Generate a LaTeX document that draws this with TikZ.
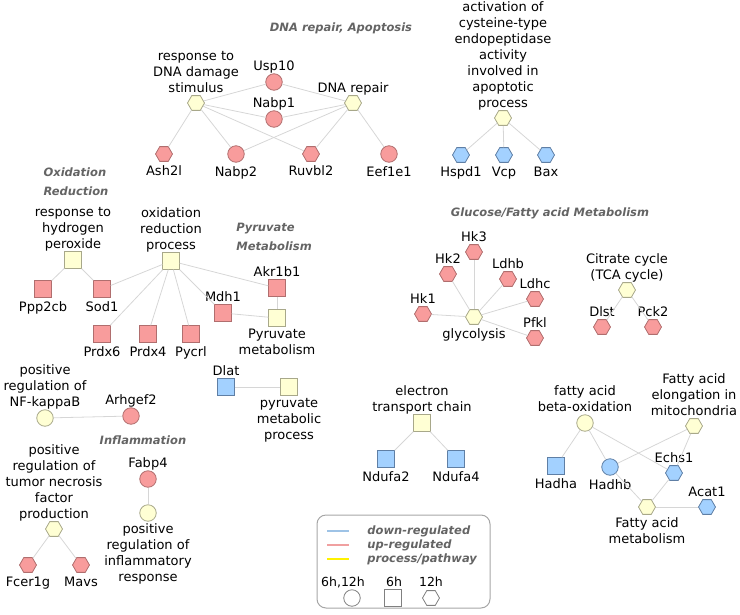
\documentclass[tikz,border=0pt]{standalone}
\usepackage{fontspec}
\setmainfont{DejaVu Sans}
\usetikzlibrary{shapes.geometric}

\definecolor{upfill}{HTML}{F89C9C}
\definecolor{upline}{HTML}{B06E6E}
\definecolor{downfill}{HTML}{A3D1FF}
\definecolor{downline}{HTML}{5F7FA5}
\definecolor{procfill}{HTML}{FFFFD4}
\definecolor{procline}{HTML}{A8A88A}
\definecolor{edgegray}{HTML}{D6D6D6}
\definecolor{titlegray}{HTML}{646464}

\begin{document}
\begin{tikzpicture}[x=1pt, y=-1pt,
  every node/.style={line width=0.8pt},
  circ/.style={circle, minimum size=16.5pt, inner sep=0pt},
  sq/.style={rectangle, minimum size=16.5pt, inner sep=0pt},
  hexa/.style={regular polygon, regular polygon sides=6, minimum size=17pt, inner sep=0pt},
  up/.style={fill=upfill, draw=upline},
  down/.style={fill=downfill, draw=downline},
  proc/.style={fill=procfill, draw=procline},
  label distance=-2.5pt,
  every label/.style={font=\fontsize{13}{16}\selectfont, align=center, inner sep=0pt,
    execute at begin node=\strut, execute at end node=\strut},
  lowlbl/.style={yshift=-4.5pt},
  edge/.style={draw=edgegray, line width=0.8pt},
  ttl/.style={font=\fontsize{11.5}{19}\selectfont\bfseries\itshape, text=titlegray, inner sep=0pt},
  lg/.style={font=\fontsize{12.5}{14}\selectfont, inner sep=0pt}]
\useasboundingbox (0,0) rectangle (740,614);

% section titles
\node[ttl] (tdna) at (341,28) {DNA repair, Apoptosis};
\node[ttl, align=left] (tox) at (76,182) {Oxidation\\Reduction};
\node[ttl, align=left, anchor=west] (tpyr) at (236,237) {Pyruvate\\Metabolism};
\node[ttl] (tinf) at (143,440) {Inflammation};
\node[ttl] (tglc) at (550,213) {Glucose/Fatty acid Metabolism};

% DNA repair
\node[hexa, proc, label=above:{response to\\DNA damage\\stimulus}] (dnadmg) at (196,103) {};
\node[circ, up, label=above:Usp10] (usp10) at (274,82) {};
\node[circ, up, label=above:Nabp1] (nabp1) at (274,119) {};
\node[hexa, proc, label=above:DNA repair] (dnarep) at (353,103) {};
\node[hexa, up, label={[lowlbl]below:Ash2l}] (ash2l) at (164,154) {};
\node[circ, up, label={[lowlbl]below:Nabp2}] (nabp2) at (236,154) {};
\node[hexa, up, label={[lowlbl]below:Ruvbl2}] (ruvbl2) at (311,154) {};
\node[circ, up, label={[lowlbl]below:Eef1e1}] (eef1e1) at (389,154) {};

% apoptosis
\node[hexa, proc, label=above:{activation of\\cysteine-type\\endopeptidase\\activity\\involved in\\apoptotic\\process}] (apop) at (503,118) {};
\node[hexa, down, label={[lowlbl]below:Hspd1}] (hspd1) at (461,155) {};
\node[hexa, down, label={[lowlbl]below:Vcp}] (vcp) at (504,155) {};
\node[hexa, down, label={[lowlbl]below:Bax}] (bax) at (546,155) {};

% oxidation reduction
\node[sq, proc, label=above:{response to\\hydrogen\\peroxide}] (hperox) at (73,260) {};
\node[sq, up, label={[lowlbl]below:Ppp2cb}] (ppp2cb) at (43,289) {};
\node[sq, up, label={[lowlbl]below:Sod1}] (sod1) at (102,289) {};
\node[sq, proc, label=above:{oxidation\\reduction\\process}] (oxred) at (171,261) {};
\node[sq, up, label={[lowlbl]below:Prdx6}] (prdx6) at (102,334) {};
\node[sq, up, label={[lowlbl]below:Prdx4}] (prdx4) at (148,334) {};
\node[sq, up, label={[lowlbl]below:Pycrl}] (pycrl) at (191,334) {};
\node[sq, up, label=above:Mdh1] (mdh1) at (223,313) {};
\node[sq, up, label=above:Akr1b1] (akr1b1) at (277,288) {};
\node[sq, proc, label={[lowlbl]below:{Pyruvate\\metabolism}}] (pyrmet) at (277,318) {};

% inflammation
\node[circ, proc, label=above:{positive\\regulation of\\NF-kappaB}] (nfkb) at (45,418) {};
\node[circ, up, label=above:Arhgef2] (arhgef2) at (131,416) {};
\node[hexa, proc, label=above:{positive\\regulation of\\tumor necrosis\\factor\\production}] (tnf) at (54,529) {};
\node[hexa, up, label={[lowlbl]below:Fcer1g}] (fcer1g) at (28,565) {};
\node[hexa, up, label={[lowlbl]below:Mavs}] (mavs) at (81,565) {};
\node[circ, up, label=above:Fabp4] (fabp4) at (148,479) {};
\node[circ, proc, label={[lowlbl]below:{positive\\regulation of\\inflammatory\\response}}] (inflresp) at (148,513) {};
\node[sq, down, label=above:Dlat] (dlat) at (226,387) {};
\node[sq, proc, label={[lowlbl]below:{pyruvate\\metabolic\\process}}] (pyrproc) at (289,387) {};

% glucose
\node[hexa, proc, label={[lowlbl]below:glycolysis}] (glyc) at (474,317) {};
\node[hexa, up, label=above:Hk1] (hk1) at (423,314) {};
\node[hexa, up, label=above:Hk2] (hk2) at (448,274) {};
\node[hexa, up, label=above:Hk3] (hk3) at (474,252) {};
\node[hexa, up, label=above:Ldhb] (ldhb) at (508,279) {};
\node[hexa, up, label=above:Ldhc] (ldhc) at (535,299) {};
\node[hexa, up, label=above:Pfkl] (pfkl) at (535,338) {};
\node[hexa, proc, label=above:{Citrate cycle\\(TCA cycle)}] (tca) at (627,290) {};
\node[hexa, up, label=above:Dlst] (dlst) at (602,327) {};
\node[hexa, up, label=above:Pck2] (pck2) at (653,327) {};

% electron transport
\node[sq, proc, label=above:{electron\\transport chain}] (etc) at (422,423) {};
\node[sq, down, label={[lowlbl]below:Ndufa2}] (ndufa2) at (386,459) {};
\node[sq, down, label={[lowlbl]below:Ndufa4}] (ndufa4) at (456,459) {};

% fatty acid
\node[circ, proc, label=above:{fatty acid\\beta-oxidation}] (betaox) at (585,423) {};
\node[hexa, proc, label=above:{Fatty acid\\elongation in\\mitochondria}] (elong) at (694,426) {};
\node[sq, down, label={[lowlbl]below:Hadha}] (hadha) at (556,466) {};
\node[circ, down, label={[lowlbl]below:Hadhb}] (hadhb) at (610,467) {};
\node[hexa, down, label=above:Echs1] (echs1) at (674,473) {};
\node[hexa, proc, label={[lowlbl]below:{Fatty acid\\metabolism}}] (fametab) at (647,507) {};
\node[hexa, down, label=above:Acat1] (acat1) at (707,507) {};

% edges
\foreach \a/\b in {dnadmg/usp10, dnadmg/nabp1, dnadmg/ash2l, dnadmg/nabp2, dnadmg/ruvbl2,
    dnarep/usp10, dnarep/nabp1, dnarep/nabp2, dnarep/ruvbl2, dnarep/eef1e1,
    apop/hspd1, apop/vcp, apop/bax,
    hperox/ppp2cb, hperox/sod1, oxred/sod1, oxred/prdx6, oxred/prdx4, oxred/pycrl,
    oxred/mdh1, oxred/akr1b1, akr1b1/pyrmet, mdh1/pyrmet,
    nfkb/arhgef2, tnf/fcer1g, tnf/mavs, fabp4/inflresp, dlat/pyrproc,
    glyc/hk1, glyc/hk2, glyc/hk3, glyc/ldhb, glyc/ldhc, glyc/pfkl, tca/dlst, tca/pck2,
    etc/ndufa2, etc/ndufa4,
    betaox/hadha, betaox/hadhb, betaox/echs1, elong/hadhb, elong/echs1,
    hadhb/fametab, echs1/fametab, fametab/acat1}
  \draw[edge] (\a) -- (\b);

% legend
\draw[draw=gray!70, line width=1pt, rounded corners=9pt] (317,515) rectangle (490,608);
\node[ttl, anchor=west] (ldown) at (367,531) {down-regulated};
\node[ttl, anchor=west] (lup) at (367,545) {up-regulated};
\node[ttl, anchor=west] (lproc) at (367,559) {process/pathway};
\draw[draw={rgb,255:red,158;green,195;blue,230}, line width=1.2pt] ([xshift=-40pt]ldown.west) -- ++(22,0);
\draw[draw={rgb,255:red,240;green,160;blue,160}, line width=1.2pt] ([xshift=-40pt]lup.west) -- ++(22,0);
\draw[draw=yellow, line width=1.2pt] ([xshift=-40pt]lproc.west) -- ++(22,0);
\node[lg] (l612) at (343,582) {6h,12h};
\node[lg] (l6) at (394,582) {6h};
\node[lg] (l12) at (431,582) {12h};
\node[circ, draw=gray, fill=white] (lcirc) at (352,598) {};
\node[sq, draw=gray, fill=white] (lsq) at (393,598) {};
\node[hexa, draw=gray, fill=white] (lhex) at (431,598) {};
\end{tikzpicture}
\end{document}
